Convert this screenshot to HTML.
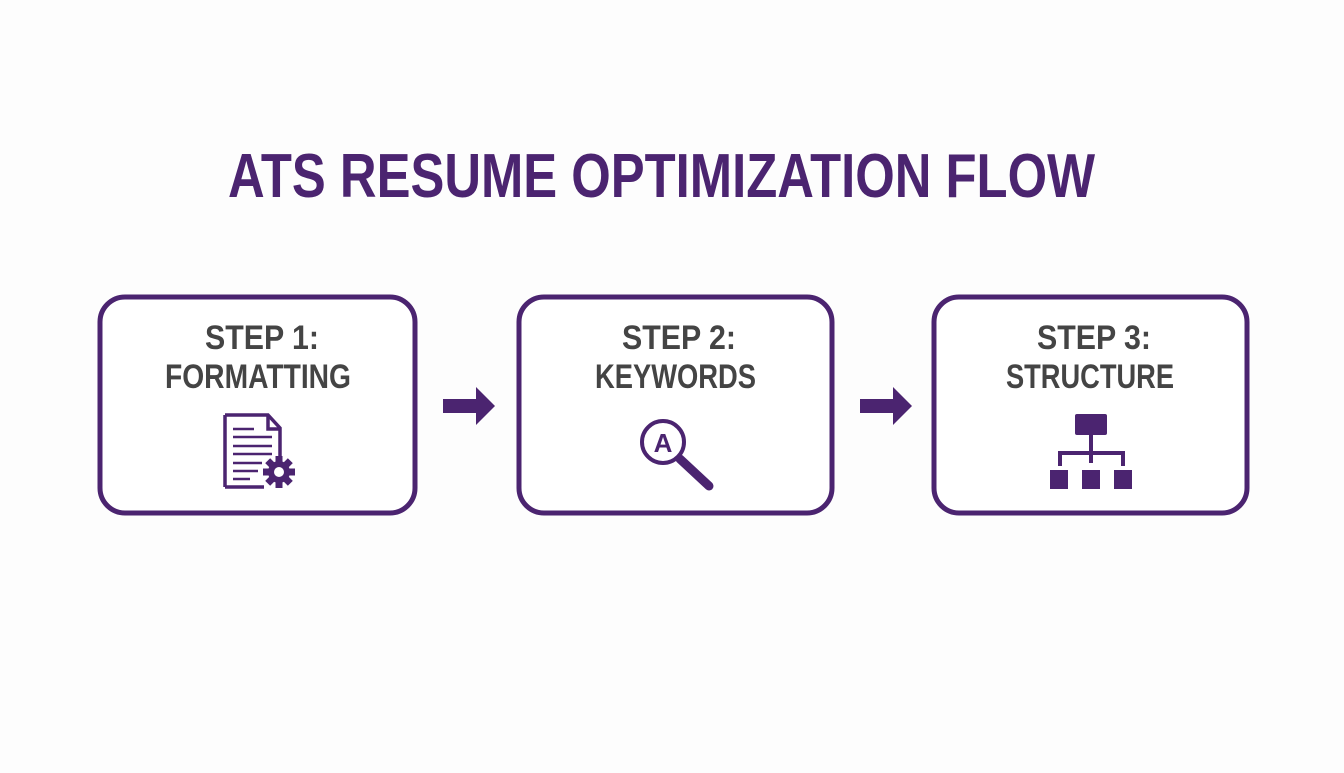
<!DOCTYPE html>
<html><head><style>html,body{margin:0;padding:0;background:#fdfdfd;}</style></head>
<body>
<svg width="1344" height="768" viewBox="0 0 1344 768" xmlns="http://www.w3.org/2000/svg">
<rect width="1344" height="768" fill="#fdfdfd"/>
<g font-family="Liberation Sans, sans-serif" font-weight="bold">
<text x="228" y="197" font-size="62" fill="#4b2470" textLength="867" lengthAdjust="spacingAndGlyphs">ATS RESUME OPTIMIZATION FLOW</text>
</g>
<g fill="#fff" stroke="#4b2470" stroke-width="5">
<rect x="100" y="297" width="315" height="216" rx="25"/>
<rect x="519" y="297" width="313" height="216" rx="25"/>
<rect x="934" y="297" width="313" height="216" rx="25"/>
</g>
<g font-family="Liberation Sans, sans-serif" font-weight="bold" font-size="34" fill="#444">
<text x="205" y="349" textLength="114" lengthAdjust="spacingAndGlyphs">STEP 1:</text>
<text x="165" y="388" textLength="186" lengthAdjust="spacingAndGlyphs">FORMATTING</text>
<text x="622" y="349" textLength="114" lengthAdjust="spacingAndGlyphs">STEP 2:</text>
<text x="595" y="388" textLength="161" lengthAdjust="spacingAndGlyphs">KEYWORDS</text>
<text x="1037" y="349" textLength="114" lengthAdjust="spacingAndGlyphs">STEP 3:</text>
<text x="1006" y="388" textLength="168" lengthAdjust="spacingAndGlyphs">STRUCTURE</text>
</g>
<g fill="#4b2470">
<path d="M443 399 H476 V387 L495 406 L476 425 V413 H443 Z"/>
<path d="M860 399 H893 V387 L912 406 L893 425 V413 H860 Z"/>
</g>
<g stroke="#4b2470" stroke-width="3.5" fill="none">
<path d="M225 415 H268 L280 428 V460 M264 487 H225 Z" />
<path d="M225 415 V487"/>
<path d="M268 415 V429 H280"/>
</g>
<g stroke="#4b2470" stroke-width="2.5">
<line x1="233" y1="429" x2="254" y2="429"/>
<line x1="233" y1="437" x2="272" y2="437"/>
<line x1="233" y1="446" x2="272" y2="446"/>
<line x1="233" y1="454" x2="272" y2="454"/>
<line x1="233" y1="463" x2="262" y2="463"/>
<line x1="233" y1="471" x2="258" y2="471"/>
<line x1="233" y1="479" x2="250" y2="479"/>
</g>
<g transform="translate(279,472)" fill="#4b2470">
<circle r="11"/>
<rect x="-3.5" y="-16" width="7" height="32"/>
<rect x="-3.5" y="-16" width="7" height="32" transform="rotate(45)"/>
<rect x="-3.5" y="-16" width="7" height="32" transform="rotate(90)"/>
<rect x="-3.5" y="-16" width="7" height="32" transform="rotate(135)"/>
<circle r="5" fill="#fff"/>
</g>
<line x1="680" y1="459" x2="709" y2="486" stroke="#4b2470" stroke-width="9" stroke-linecap="round"/>
<circle cx="663" cy="442" r="21" fill="#fff" stroke="#4b2470" stroke-width="4"/>
<text x="663" y="452" text-anchor="middle" font-family="Liberation Sans, sans-serif" font-weight="bold" font-size="26" fill="#4b2470">A</text>
<g fill="#4b2470">
<rect x="1075" y="414" width="32" height="21" rx="2"/>
<rect x="1089" y="435" width="4" height="28"/>
<rect x="1058" y="451" width="67" height="4"/>
<rect x="1058" y="451" width="4" height="15"/>
<rect x="1121" y="451" width="4" height="15"/>
<rect x="1050" y="470" width="18" height="19"/>
<rect x="1082" y="470" width="18" height="19"/>
<rect x="1114" y="470" width="18" height="19"/>
</g>
</svg>
</body></html>
